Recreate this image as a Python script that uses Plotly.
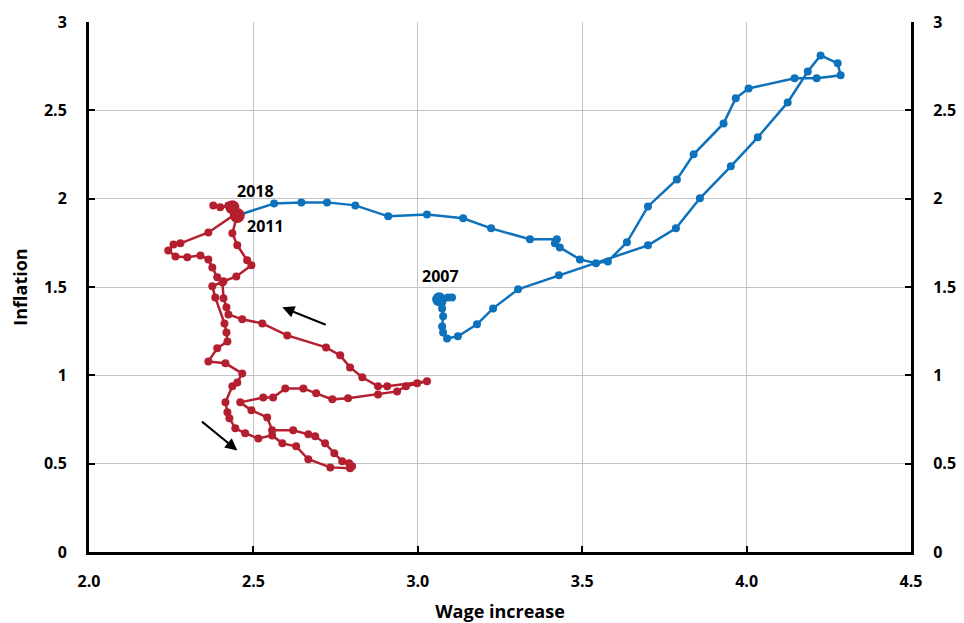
import plotly.graph_objects as go

# Blue path 2007 -> 2011
blue_x = [3.065, 3.092, 3.104, 3.074, 3.074, 3.077, 3.074, 3.077, 3.089, 3.122,
          3.180, 3.229, 3.305, 3.429, 3.700, 3.785, 3.858, 3.952, 4.034, 4.125,
          4.186, 4.225, 4.277, 4.286, 4.213, 4.146, 4.006, 3.967, 3.930, 3.839,
          3.788, 3.700, 3.636, 3.578, 3.542, 3.493, 3.432, 3.417, 3.423, 3.341,
          3.223, 3.138, 3.028, 2.910, 2.810, 2.724, 2.646, 2.563, 2.451]
blue_y = [1.430, 1.441, 1.441, 1.413, 1.379, 1.334, 1.277, 1.243, 1.209, 1.221,
          1.289, 1.379, 1.487, 1.566, 1.736, 1.832, 2.002, 2.183, 2.347, 2.545,
          2.720, 2.811, 2.766, 2.698, 2.681, 2.681, 2.624, 2.568, 2.426, 2.251,
          2.109, 1.956, 1.753, 1.645, 1.634, 1.656, 1.724, 1.747, 1.770, 1.770,
          1.832, 1.889, 1.911, 1.900, 1.962, 1.979, 1.979, 1.973, 1.905]

# Red path 2011 -> 2018
red_x = [2.451, 2.436, 2.451, 2.481, 2.494, 2.448, 2.409, 2.375, 2.384, 2.412,
         2.418, 2.421, 2.390, 2.363, 2.415, 2.466, 2.451, 2.436, 2.415, 2.421,
         2.427, 2.445, 2.475, 2.515, 2.557, 2.588, 2.630, 2.667, 2.734, 2.794,
         2.800, 2.791, 2.770, 2.746, 2.718, 2.688, 2.667, 2.621, 2.557, 2.542,
         2.494, 2.460, 2.530, 2.560, 2.597, 2.652, 2.691, 2.740, 2.788, 2.879,
         2.937, 2.964, 2.998, 3.028, 2.907, 2.879, 2.831, 2.794, 2.764, 2.721,
         2.603, 2.527, 2.466, 2.424, 2.418, 2.409, 2.406, 2.390, 2.375, 2.363,
         2.339, 2.299, 2.263, 2.241, 2.257, 2.278, 2.363, 2.451, 2.424, 2.399,
         2.378, 2.436]
red_y = [1.905, 1.804, 1.736, 1.651, 1.623, 1.560, 1.532, 1.504, 1.441, 1.294,
         1.243, 1.192, 1.153, 1.079, 1.068, 1.011, 0.960, 0.938, 0.847, 0.791,
         0.757, 0.700, 0.672, 0.643, 0.660, 0.615, 0.598, 0.525, 0.479, 0.474,
         0.485, 0.502, 0.513, 0.559, 0.615, 0.655, 0.666, 0.689, 0.689, 0.762,
         0.802, 0.847, 0.875, 0.875, 0.926, 0.926, 0.898, 0.864, 0.870, 0.892,
         0.909, 0.938, 0.955, 0.966, 0.938, 0.938, 0.989, 1.045, 1.113, 1.158,
         1.226, 1.294, 1.317, 1.345, 1.385, 1.436, 1.526, 1.555, 1.611, 1.656,
         1.679, 1.668, 1.673, 1.707, 1.741, 1.747, 1.809, 1.920, 1.962, 1.951,
         1.962, 1.951]

# Year labels
label_text = ["2007", "2018", "2011"]
label_x = [3.068, 2.506, 2.536]
label_y = [1.56, 2.046, 1.848]

# Direction arrows (tail -> head)
arrow_tail_x = [2.7245, 2.339]
arrow_tail_y = [1.283, 0.745]
arrow_head_x = [2.588, 2.451]
arrow_head_y = [1.385, 0.575]

x_ticks = [2.0, 2.5, 3.0, 3.5, 4.0, 4.5]
y_ticks = [0, 0.5, 1, 1.5, 2, 2.5, 3]
y_tick_text = ["0", "0.5", "1", "1.5", "2", "2.5", "3"]

BLUE = "#0E71BB"
RED = "#B41F2F"
FONT = "Open Sans"

fig = go.Figure()

fig.add_trace(go.Scatter(
    x=blue_x, y=blue_y, mode="lines+markers",
    line=dict(color=BLUE, width=2.5),
    marker=dict(color=BLUE, opacity=1, line=dict(width=0),
                size=[14] + [8] * (len(blue_x) - 1)),
    showlegend=False, hoverinfo="skip"))

fig.add_trace(go.Scatter(
    x=red_x, y=red_y, mode="lines+markers",
    line=dict(color=RED, width=2.5),
    marker=dict(color=RED, opacity=1, line=dict(width=0),
                size=[15] + [8] * (len(red_x) - 2) + [14]),
    showlegend=False, hoverinfo="skip"))

# invisible trace to anchor the right-hand axis
fig.add_trace(go.Scatter(x=[blue_x[0]], y=[blue_y[0]], yaxis="y2",
                         mode="markers", marker=dict(opacity=0),
                         showlegend=False, hoverinfo="skip"))

for t, lx, ly in zip(label_text, label_x, label_y):
    fig.add_annotation(x=lx, y=ly, text="<b>" + t + "</b>", showarrow=False,
                       font=dict(family=FONT, size=16, color="black"))

for tx, ty, hx, hy in zip(arrow_tail_x, arrow_tail_y, arrow_head_x, arrow_head_y):
    fig.add_annotation(x=hx, y=hy, ax=tx, ay=ty, xref="x", yref="y",
                       axref="x", ayref="y", text="", showarrow=True,
                       arrowhead=2, arrowsize=1.2, arrowwidth=2, arrowcolor="black")

tick_font = dict(family=FONT, size=16, color="black", weight="bold")

fig.update_layout(
    width=956, height=615,
    margin=dict(l=80.5, r=52.5, t=13.7, b=71.3),
    plot_bgcolor="white", paper_bgcolor="white",
    font=dict(family=FONT, color="black"),
    xaxis=dict(range=[2.0, 4.5], tickvals=x_ticks, tickformat=".1f",
               automargin=False,
               showgrid=True, gridcolor="#C4C4C4", gridwidth=1,
               showline=True, linecolor="black", linewidth=3,
               ticks="inside", ticklen=6, tickwidth=2, tickcolor="black",
               tickfont=tick_font, zeroline=False, ticklabelstandoff=13,
               title=dict(text="<b>Wage increase</b>", standoff=24,
                          font=dict(family=FONT, size=18, color="black"))),
    yaxis=dict(range=[0, 3], tickvals=y_ticks, ticktext=y_tick_text,
               automargin=False,
               showgrid=True, gridcolor="#C4C4C4", gridwidth=1,
               showline=True, linecolor="black", linewidth=3,
               ticks="inside", ticklen=6, tickwidth=2, tickcolor="black",
               tickfont=tick_font, zeroline=False, ticklabelstandoff=16,
               title=dict(text="<b>Inflation</b>", standoff=12,
                          font=dict(family=FONT, size=18, color="black"))),
    yaxis2=dict(range=[0, 3], overlaying="y", side="right",
                automargin=False,
                tickvals=y_ticks, ticktext=y_tick_text, showgrid=False,
                showline=True, linecolor="black", linewidth=3,
                ticks="inside", ticklen=6, tickwidth=2, tickcolor="black",
                tickfont=tick_font, zeroline=False, ticklabelstandoff=16),
)

fig.write_html("out.html")
